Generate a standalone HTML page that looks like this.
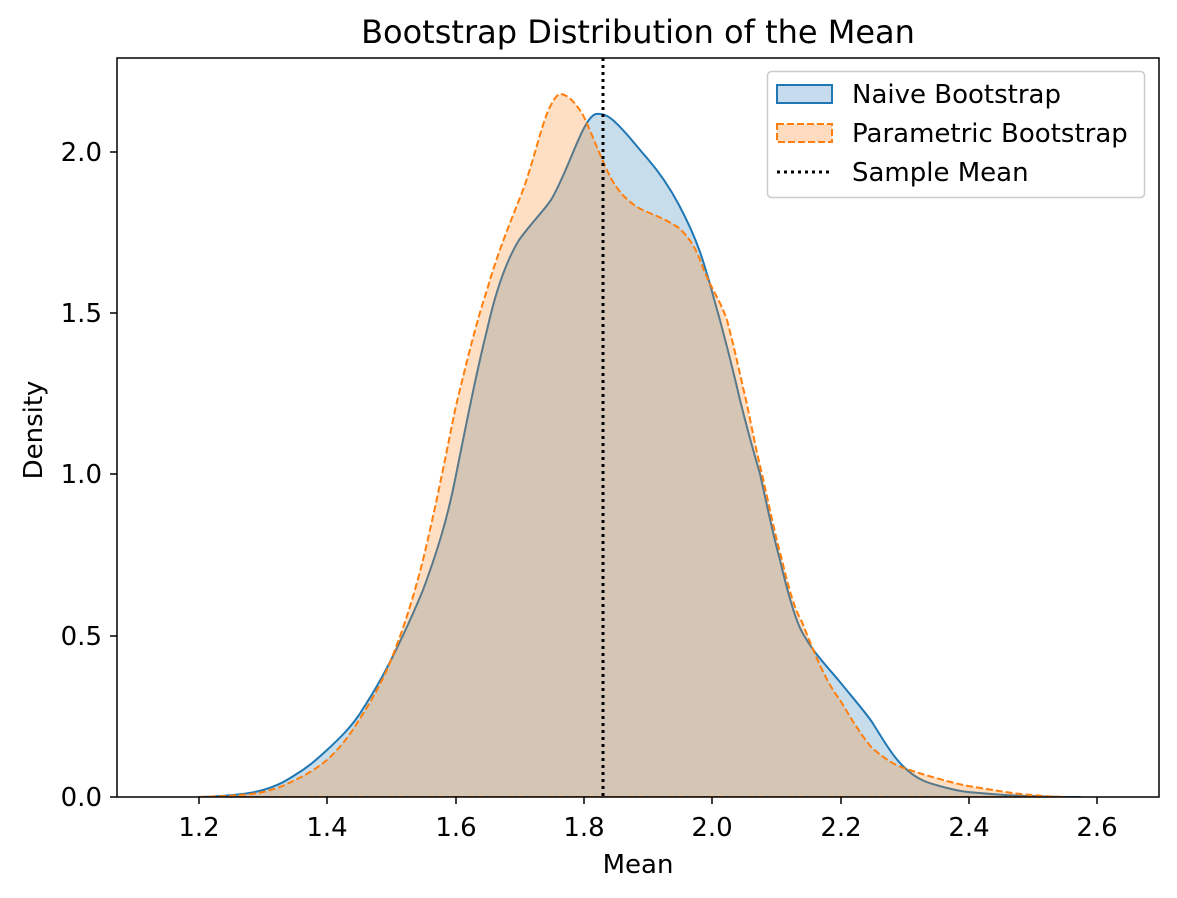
<!DOCTYPE html>
<html><head><style>body{margin:0;background:#fff}svg{display:block;font-family:"DejaVu Sans","Liberation Sans",sans-serif}</style></head><body>
<svg width="1177" height="898" viewBox="0 0 1177 898">
<rect width="1177" height="898" fill="#fff"/>
<clipPath id="c"><rect x="117" y="58" width="1042" height="739"/></clipPath>
<g clip-path="url(#c)" stroke-linejoin="round">
<path d="M199,797 C230,796 250,794 263,790 C280,785 287,780 295,775 C310,766 318,758 327,750 C340,738 350,728 359,715 C372,695 382,678 391,660 C405,632 414,612 423,590 C437,552 447,520 455,480 C467,420 477,370 487,330 C497,285 508,258 519,240 C532,222 542,213 551,200 C563,180 573,150 583,130 C588,120 592,115 596,114 C603,113 609,116 615,122 C627,133 637,147 647,158 C660,173 670,188 679,205 C688,222 694,235 700,252 C707,272 712,292 718,313 C726,342 733,370 740,400 C747,428 753,450 760,474 C767,505 773,535 780,560 C787,590 793,612 800,628 C812,652 826,665 840,682 C852,697 862,708 872,722 C882,738 893,757 904,767 C915,778 925,782 936,785 C950,789 958,791 968,792 C1000,795 1015,796 1032,796 C1050,797 1065,797 1080,797 Z" fill="#1f77b4" fill-opacity="0.25" stroke="#1f77b4" stroke-width="2"/>
<path d="M199,797 C230,796 250,795 263,792 C280,788 287,784 295,780 C310,773 318,767 327,760 C340,748 350,735 359,720 C372,700 382,682 391,660 C405,625 414,595 423,560 C435,510 445,460 455,410 C467,360 477,320 487,290 C497,255 508,228 519,200 C532,170 542,120 551,105 C555,97 558,94 561,94 C568,95 575,102 583,115 C595,140 605,170 615,185 C625,200 637,208 647,212 C660,217 670,222 679,228 C690,238 697,250 703,268 C712,290 720,300 727,320 C735,350 740,375 746,400 C752,428 756,450 762,474 C769,505 775,535 782,560 C789,590 795,610 802,622 C815,655 826,682 840,700 C852,720 861,735 872,748 C884,758 894,765 904,768 C915,772 925,775 936,778 C950,782 958,784 968,786 C1000,791 1015,794 1032,795 C1045,796 1055,797 1065,797 Z" fill="#ff7f0e" fill-opacity="0.25" stroke="#ff7f0e" stroke-width="2" stroke-dasharray="7,3"/>
</g>
<line x1="603" y1="58" x2="603" y2="797" stroke="#000" stroke-width="3" stroke-dasharray="3,4"/>
<rect x="117" y="58" width="1042" height="739" fill="none" stroke="#000" stroke-width="1.5"/>
<g stroke="#000" stroke-width="1.5">
<line x1="199" y1="797" x2="199" y2="804"/><line x1="327" y1="797" x2="327" y2="804"/><line x1="456" y1="797" x2="456" y2="804"/><line x1="584" y1="797" x2="584" y2="804"/><line x1="712" y1="797" x2="712" y2="804"/><line x1="841" y1="797" x2="841" y2="804"/><line x1="969" y1="797" x2="969" y2="804"/><line x1="1097" y1="797" x2="1097" y2="804"/>
<line x1="110" y1="797" x2="117" y2="797"/><line x1="110" y1="636" x2="117" y2="636"/><line x1="110" y1="474" x2="117" y2="474"/><line x1="110" y1="313" x2="117" y2="313"/><line x1="110" y1="152" x2="117" y2="152"/>
</g>
<g style="font-size:26px" fill="#000" text-anchor="middle">
<text x="199" y="836">1.2</text><text x="327" y="836">1.4</text><text x="456" y="836">1.6</text><text x="584" y="836">1.8</text><text x="712" y="836">2.0</text><text x="841" y="836">2.2</text><text x="969" y="836">2.4</text><text x="1097" y="836">2.6</text>
<text x="638" y="873">Mean</text>
<text x="638" y="43" style="font-size:32px">Bootstrap Distribution of the Mean</text>
</g>
<g style="font-size:26px" fill="#000" text-anchor="end">
<text x="102" y="806">0.0</text><text x="102" y="645">0.5</text><text x="102" y="483">1.0</text><text x="102" y="322">1.5</text><text x="102" y="161">2.0</text>
</g>
<text transform="translate(42,430) rotate(-90)" style="font-size:26px" text-anchor="middle">Density</text>
<rect x="767.5" y="71.5" width="377" height="126" rx="4" fill="#fff" fill-opacity="0.8" stroke="#ccc" stroke-width="1.5"/>
<rect x="777" y="85" width="55" height="18" fill="#c6dbed" stroke="#1f77b4" stroke-width="2"/>
<rect x="777" y="124" width="55" height="18" fill="#ffdcc0" stroke="#ff7f0e" stroke-width="2" stroke-dasharray="7,3"/>
<line x1="777" y1="172" x2="832" y2="172" stroke="#000" stroke-width="3" stroke-dasharray="3,4"/>
<g style="font-size:26px" fill="#000">
<text x="852" y="103">Naive Bootstrap</text><text x="852" y="142">Parametric Bootstrap</text><text x="852" y="181">Sample Mean</text>
</g>
</svg>
</body></html>
